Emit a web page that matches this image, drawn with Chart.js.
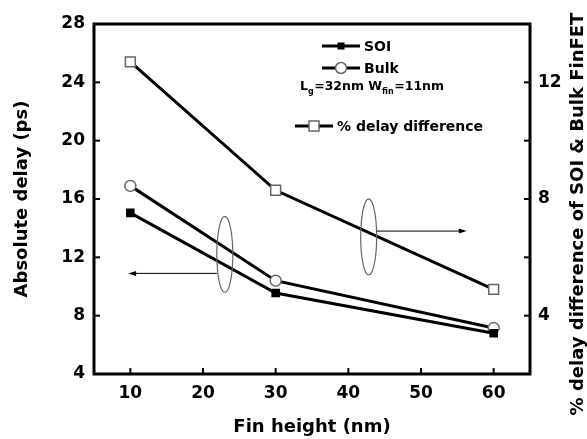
<!DOCTYPE html>
<html>
<head>
<meta charset="utf-8">
<script src="https://cdn.jsdelivr.net/npm/chart.js@4"></script>
<style>
  html, body { margin: 0; padding: 0; background: #fff; }
  #wrap { width: 587px; height: 439px; }
</style>
</head>
<body>
<div id="wrap"><canvas id="chart"></canvas></div>
<script>
// values
const finHeight = [10, 30, 60];
const soiDelay = [15.05, 9.55, 6.8];
const bulkDelay = [16.9, 10.4, 7.15];
const pctDiff = [12.7, 8.3, 4.9];

const xTicks = [10, 20, 30, 40, 50, 60];
const leftTicks = [4, 8, 12, 16, 20, 24, 28];
const rightTicks = [2, 4, 6, 8, 10, 12, 14];
const rightLabels = [4, 8, 12];

const FONT = "'DejaVu Sans', 'Liberation Sans', Arial, sans-serif";
const GREY = "#666";

const pts = (ys) => finHeight.map((x, i) => ({ x, y: ys[i] }));

// inward tick marks + box frame
const framePlugin = {
  id: "frame",
  beforeDatasetsDraw(chart) {
    const { ctx, chartArea: a, scales } = chart;
    ctx.save();
    ctx.strokeStyle = "#000";
    ctx.lineWidth = 2;
    const len = 6;
    scales.x.ticks.forEach((t) => {
      const px = scales.x.getPixelForValue(t.value);
      ctx.beginPath();
      ctx.moveTo(px, a.bottom);
      ctx.lineTo(px, a.bottom - len);
      ctx.stroke();
    });
    scales.y.ticks.forEach((t) => {
      const py = scales.y.getPixelForValue(t.value);
      ctx.beginPath();
      ctx.moveTo(a.left, py);
      ctx.lineTo(a.left + len, py);
      ctx.stroke();
    });
    scales.y2.ticks.forEach((t) => {
      const py = scales.y2.getPixelForValue(t.value);
      ctx.beginPath();
      ctx.moveTo(a.right, py);
      ctx.lineTo(a.right - len, py);
      ctx.stroke();
    });
    ctx.lineWidth = 3;
    ctx.strokeRect(a.left, a.top, a.right - a.left, a.bottom - a.top);
    ctx.restore();
  },
};

// ellipses with arrows pointing to the axis each group belongs to
const notes = [
  { axis: "y", cx: 23.0, cy: 12.2, ay: 10.9, toX: 9.7, dir: -1 },
  { axis: "y2", cx: 42.8, cy: 6.7, ay: 6.9, toX: 56.3, dir: 1 },
];

function drawMarker(ctx, style, x, y) {
  ctx.save();
  ctx.lineWidth = 1.5;
  if (style === "soi") {
    ctx.fillStyle = "#000";
    ctx.fillRect(x - 3.5, y - 3.5, 7, 7);
  } else if (style === "bulk") {
    ctx.fillStyle = "#fff";
    ctx.strokeStyle = GREY;
    ctx.beginPath();
    ctx.arc(x, y, 5.5, 0, Math.PI * 2);
    ctx.fill();
    ctx.stroke();
  } else {
    ctx.fillStyle = "#fff";
    ctx.strokeStyle = GREY;
    ctx.fillRect(x - 5, y - 5, 10, 10);
    ctx.strokeRect(x - 5, y - 5, 10, 10);
  }
  ctx.restore();
}

const notesPlugin = {
  id: "notes",
  afterDraw(chart) {
    const { ctx, scales } = chart;
    ctx.save();
    notes.forEach((n) => {
      const cx = scales.x.getPixelForValue(n.cx);
      const cy = scales[n.axis].getPixelForValue(n.cy);
      const ay = scales[n.axis].getPixelForValue(n.ay);
      const tx = scales.x.getPixelForValue(n.toX);
      const rx = 8, ry = 38;
      ctx.strokeStyle = GREY;
      ctx.lineWidth = 1.2;
      ctx.beginPath();
      ctx.ellipse(cx, cy, rx, ry, 0, 0, Math.PI * 2);
      ctx.stroke();
      const sx = cx + n.dir * rx;
      ctx.strokeStyle = "#000";
      ctx.lineWidth = 1;
      ctx.beginPath();
      ctx.moveTo(sx, ay);
      ctx.lineTo(tx - n.dir * 6, ay);
      ctx.stroke();
      ctx.fillStyle = "#000";
      ctx.beginPath();
      ctx.moveTo(tx, ay);
      ctx.lineTo(tx - n.dir * 8, ay - 2.5);
      ctx.lineTo(tx - n.dir * 8, ay + 2.5);
      ctx.closePath();
      ctx.fill();
    });

    // legend
    const items = [
      { style: "soi", label: "SOI", x: 322, y: 46 },
      { style: "bulk", label: "Bulk", x: 322, y: 68 },
      { style: "pct", label: "% delay difference", x: 295, y: 126 },
    ];
    ctx.textBaseline = "middle";
    ctx.textAlign = "left";
    items.forEach((it) => {
      ctx.strokeStyle = "#000";
      ctx.lineWidth = 3;
      ctx.beginPath();
      ctx.moveTo(it.x, it.y);
      ctx.lineTo(it.x + 38, it.y);
      ctx.stroke();
      drawMarker(ctx, it.style, it.x + 19, it.y);
      ctx.fillStyle = "#000";
      ctx.font = `bold 14px ${FONT}`;
      ctx.fillText(it.label, it.x + 42, it.y + 1);
    });

    // Lg / Wfin note with subscripts
    const parts = [
      ["L", false], ["g", true], ["=32nm W", false], ["fin", true], ["=11nm", false],
    ];
    let x = 300;
    const y = 87;
    parts.forEach(([s, sub]) => {
      ctx.font = sub ? `bold 8px ${FONT}` : `bold 12.5px ${FONT}`;
      ctx.fillText(s, x, sub ? y + 5 : y);
      x += ctx.measureText(s).width + (sub ? 0.5 : 0);
    });

    // right axis title, reading bottom to top
    ctx.translate(578, 214);
    ctx.rotate(-Math.PI / 2);
    ctx.textAlign = "center";
    ctx.font = `bold 18px ${FONT}`;
    ctx.fillText("% delay difference of SOI & Bulk FinFET", 0, 0);
    ctx.restore();
  },
};

const lineDs = (label, data, axis, style) => ({
  label,
  data,
  yAxisID: axis,
  borderColor: "#000",
  borderWidth: 3,
  pointStyle: style === "bulk" ? "circle" : "rect",
  pointRadius: style === "soi" ? 5 : style === "bulk" ? 5.5 : 7,
  pointBackgroundColor: style === "soi" ? "#000" : "#fff",
  pointBorderColor: style === "soi" ? "#000" : GREY,
  pointBorderWidth: 1.5,
  tension: 0,
});

const tickFont = { family: FONT, size: 17, weight: "bold" };

new Chart(document.getElementById("chart"), {
  type: "line",
  data: {
    datasets: [
      lineDs("SOI", pts(soiDelay), "y", "soi"),
      lineDs("Bulk", pts(bulkDelay), "y", "bulk"),
      lineDs("% delay difference", pts(pctDiff), "y2", "pct"),
    ],
  },
  options: {
    responsive: true,
    maintainAspectRatio: false,
    animation: false,
    devicePixelRatio: 1,
    layout: { padding: { top: 24, left: 0, right: 0, bottom: 0 } },
    plugins: { legend: { display: false }, tooltip: { enabled: false } },
    scales: {
      x: {
        type: "linear",
        min: 5,
        max: 65,
        afterBuildTicks: (s) => { s.ticks = xTicks.map((v) => ({ value: v })); },
        afterFit: (s) => { s.height = 65; },
        grid: { display: false, drawTicks: false },
        border: { display: false },
        ticks: { font: tickFont, color: "#000", padding: 9, maxRotation: 0 },
        title: {
          display: true,
          text: "Fin height (nm)",
          color: "#000",
          font: { family: FONT, size: 18, weight: "bold" },
          padding: { top: 0, bottom: 1 },
        },
      },
      y: {
        position: "left",
        min: 4,
        max: 28,
        afterBuildTicks: (s) => { s.ticks = leftTicks.map((v) => ({ value: v })); },
        afterFit: (s) => { s.width = 94; },
        grid: { display: false, drawTicks: false },
        border: { display: false },
        ticks: { font: tickFont, color: "#000", padding: 9 },
        title: {
          display: true,
          text: "Absolute delay (ps)",
          color: "#000",
          font: { family: FONT, size: 18, weight: "bold" },
          padding: { top: 12, bottom: 0 },
        },
      },
      y2: {
        position: "right",
        min: 2,
        max: 14,
        afterBuildTicks: (s) => { s.ticks = rightTicks.map((v) => ({ value: v })); },
        afterFit: (s) => { s.width = 57; },
        grid: { display: false, drawTicks: false },
        border: { display: false },
        ticks: {
          font: tickFont,
          color: "#000",
          padding: 8,
          callback: (v) => (rightLabels.includes(v) ? String(v) : ""),
        },
      },
    },
  },
  plugins: [framePlugin, notesPlugin],
});
</script>
</body>
</html>
